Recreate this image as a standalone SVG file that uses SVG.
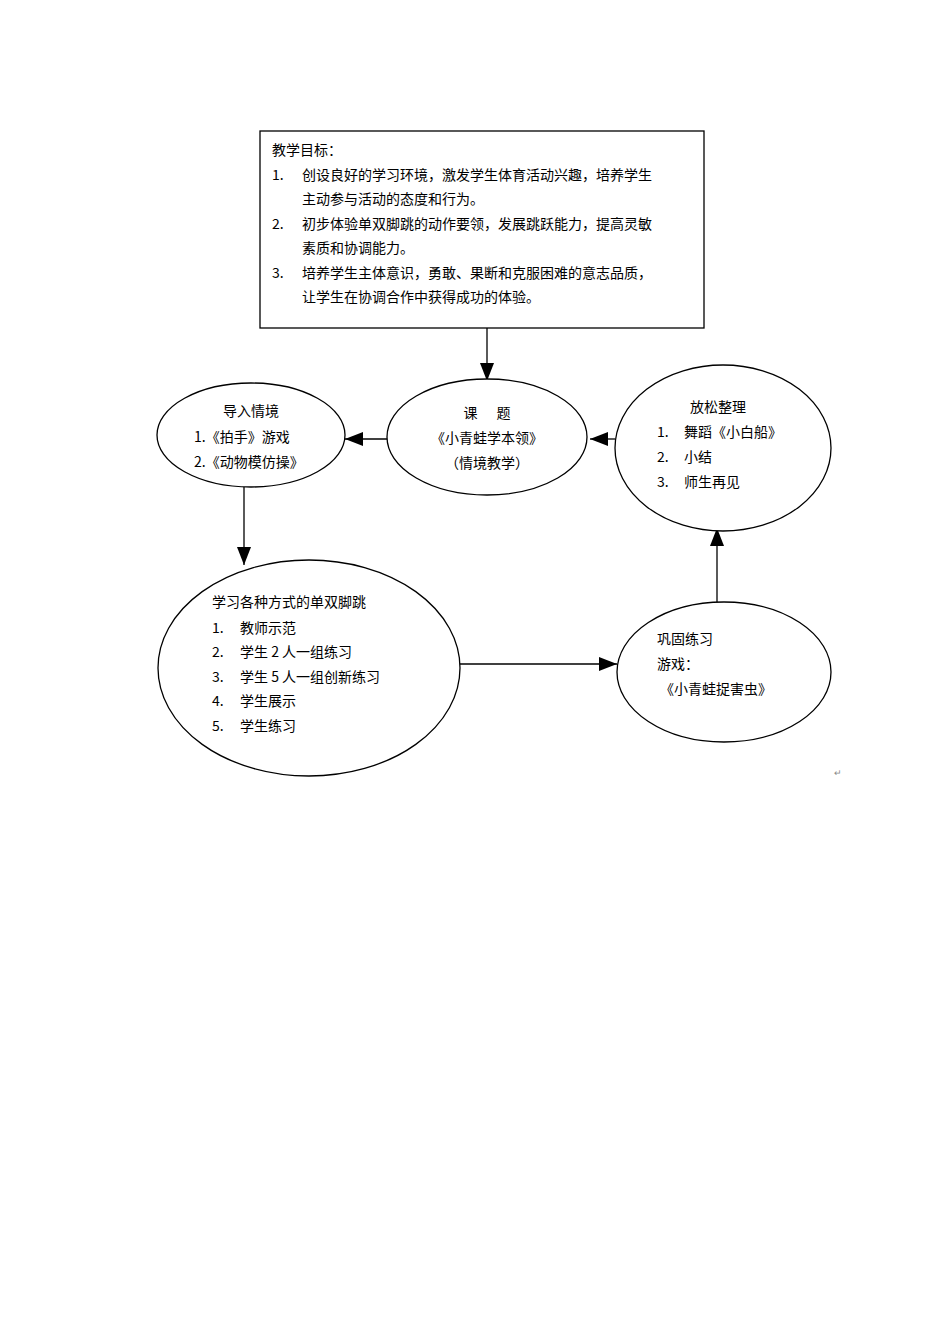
<svg xmlns="http://www.w3.org/2000/svg" width="950" height="1344" viewBox="0 0 950 1344">
<style>
text{font-family:"SimSun","Noto Sans CJK SC",sans-serif;font-size:14px;fill:#000}
.s{fill:#fff;stroke:#000;stroke-width:1.3}
.c{stroke:#000;stroke-width:1.3;fill:none;marker-end:url(#a)}
</style>
<defs><marker id="a" markerWidth="18" markerHeight="14" refX="18" refY="7" orient="auto" markerUnits="userSpaceOnUse"><path d="M0,0L18,7L0,14z" fill="#000"/></marker></defs>
<rect width="950" height="1344" fill="#fff"/>
<g id="connectors">
<line class="c" x1="487" y1="328" x2="487" y2="381"/>
<line class="c" x1="387" y1="439" x2="345" y2="439"/>
<line class="c" x1="615" y1="439" x2="590" y2="439"/>
<line class="c" x1="244" y1="487" x2="244" y2="565"/>
<line class="c" x1="460" y1="664" x2="617" y2="664"/>
<line class="c" x1="717" y1="602" x2="717" y2="528"/>
</g>
<g id="goal">
<rect class="s" x="260" y="131" width="444" height="197"/>
<text x="272" y="155">教学目标：</text>
<text x="272" y="180">1.</text><text x="302" y="180">创设良好的学习环境，激发学生体育活动兴趣，培养学生</text>
<text x="302" y="204">主动参与活动的态度和行为。</text>
<text x="272" y="229">2.</text><text x="302" y="229">初步体验单双脚跳的动作要领，发展跳跃能力，提高灵敏</text>
<text x="302" y="253">素质和协调能力。</text>
<text x="272" y="278">3.</text><text x="302" y="278">培养学生主体意识，勇敢、果断和克服困难的意志品质，</text>
<text x="302" y="302">让学生在协调合作中获得成功的体验。</text>
</g>
<g id="topic">
<ellipse class="s" cx="487" cy="437" rx="100" ry="58"/>
<text x="487" y="418" text-anchor="middle" xml:space="preserve">课      题</text>
<text x="487" y="443" text-anchor="middle">《小青蛙学本领》</text>
<text x="487" y="468" text-anchor="middle">（情境教学）</text>
</g>
<g id="intro">
<ellipse class="s" cx="251" cy="435" rx="94" ry="52"/>
<text x="251" y="416" text-anchor="middle">导入情境</text>
<text x="194" y="442">1.《拍手》游戏</text>
<text x="194" y="467">2.《动物模仿操》</text>
</g>
<g id="relax">
<ellipse class="s" cx="723" cy="448" rx="108" ry="83"/>
<text x="690" y="412">放松整理</text>
<text x="657" y="437">1.</text><text x="684" y="437">舞蹈《小白船》</text>
<text x="657" y="462">2.</text><text x="684" y="462">小结</text>
<text x="657" y="487">3.</text><text x="684" y="487">师生再见</text>
</g>
<g id="learn">
<ellipse class="s" cx="309" cy="668" rx="151" ry="108"/>
<text x="212" y="607">学习各种方式的单双脚跳</text>
<text x="212" y="633">1.</text><text x="240" y="633">教师示范</text>
<text x="212" y="657">2.</text><text x="240" y="657">学生 2 人一组练习</text>
<text x="212" y="682">3.</text><text x="240" y="682">学生 5 人一组创新练习</text>
<text x="212" y="706">4.</text><text x="240" y="706">学生展示</text>
<text x="212" y="731">5.</text><text x="240" y="731">学生练习</text>
</g>
<g id="practice">
<ellipse class="s" cx="724" cy="672" rx="107" ry="70"/>
<text x="657" y="644">巩固练习</text>
<text x="657" y="669">游戏：</text>
<text x="660" y="694">《小青蛙捉害虫》</text>
</g>
<text x="834" y="776" style="font-size:9px;fill:#888">↵</text>
</svg>
